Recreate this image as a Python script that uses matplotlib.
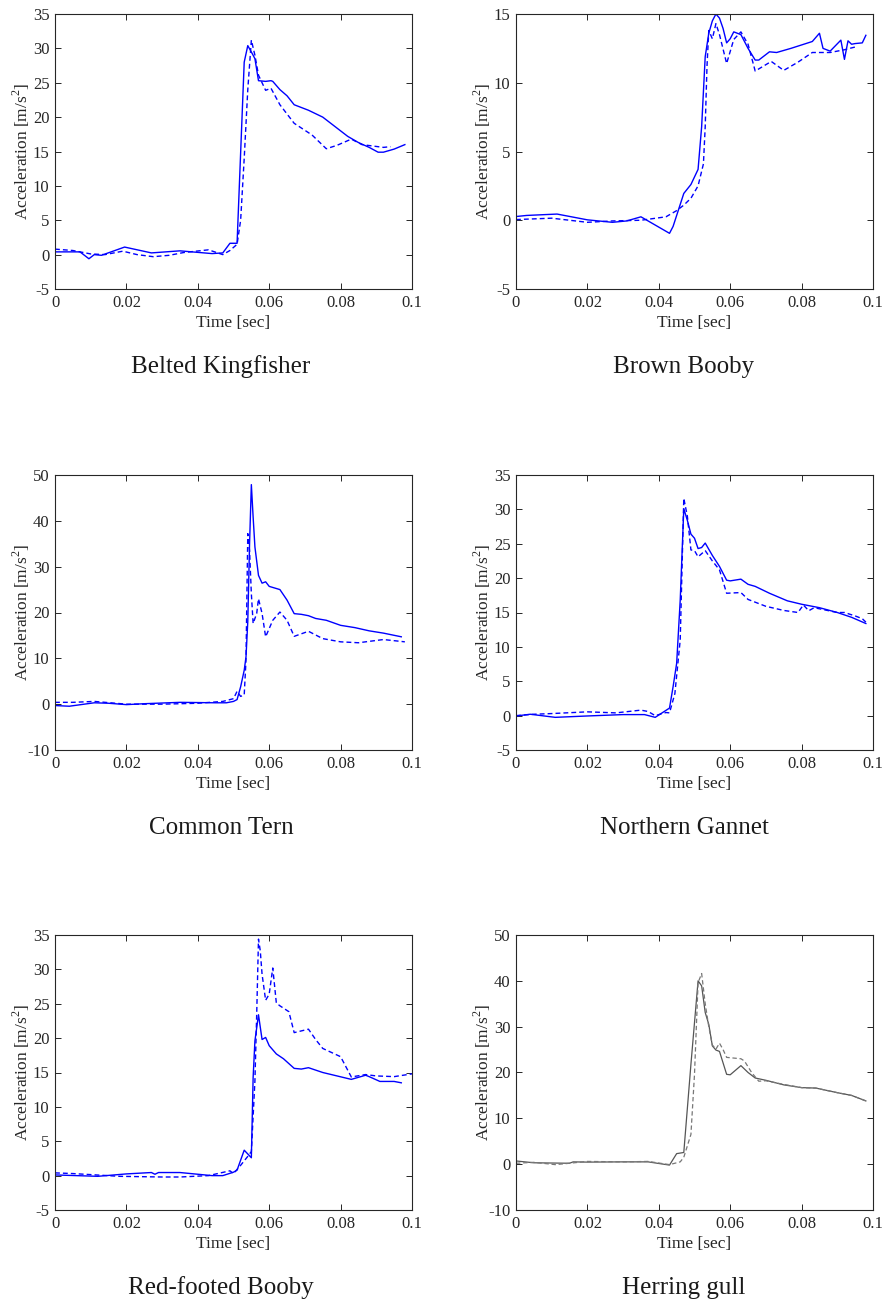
import matplotlib
matplotlib.use("Agg")
import matplotlib.pyplot as plt
from matplotlib.ticker import MultipleLocator

plt.rcParams['font.family'] = ['Liberation Serif', 'DejaVu Serif']
plt.rcParams['mathtext.fontset'] = 'custom'
plt.rcParams['mathtext.rm'] = 'Liberation Serif'
plt.rcParams['axes.unicode_minus'] = False

titles = ["Belted Kingfisher", "Brown Booby", "Common Tern",
          "Northern Gannet", "Red-footed Booby", "Herring gull"]

x_ticks = [0, 0.02, 0.04, 0.06, 0.08, 0.1]
x_ticklabels = ["0", "0.02", "0.04", "0.06", "0.08", "0.1"]

# Belted Kingfisher
bk_t_solid = [0, 0.007, 0.0095, 0.011, 0.013, 0.0195, 0.027, 0.035, 0.044, 0.047, 0.049, 0.051,
              0.053, 0.054, 0.0555, 0.056, 0.057, 0.059, 0.0605, 0.061, 0.063, 0.065, 0.067,
              0.071, 0.075, 0.079, 0.082, 0.085, 0.088, 0.0905, 0.092, 0.095, 0.098]
bk_a_solid = [0.4, 0.4, -0.6, 0.0, -0.1, 1.1, 0.25, 0.55, 0.15, 0.25, 1.65, 1.65,
              28.0, 30.4, 29.0, 28.5, 25.3, 25.2, 25.3, 25.2, 24.0, 23.1, 21.8,
              21.0, 20.0, 18.4, 17.2, 16.3, 15.6, 14.9, 14.9, 15.35, 16.0]
bk_t_dash = [0, 0.005, 0.01, 0.014, 0.019, 0.023, 0.0275, 0.032, 0.036, 0.043, 0.047, 0.049,
             0.051, 0.052, 0.053, 0.054, 0.055, 0.056, 0.057, 0.059, 0.0605, 0.063, 0.067,
             0.072, 0.076, 0.079, 0.083, 0.086, 0.092, 0.094]
bk_a_dash = [0.8, 0.6, 0.1, 0.0, 0.5, 0.0, -0.3, -0.1, 0.3, 0.7, 0.0, 0.6,
             1.5, 5.0, 14.0, 24.0, 31.2, 29.0, 26.1, 23.9, 24.2, 21.8, 19.1,
             17.4, 15.4, 15.9, 16.8, 16.0, 15.6, 15.7]

# Brown Booby
bb_t_solid = [0, 0.003, 0.0115, 0.02, 0.027, 0.031, 0.035, 0.043, 0.044, 0.047, 0.049, 0.051,
              0.052, 0.053, 0.054, 0.055, 0.056, 0.057, 0.058, 0.059, 0.06, 0.061, 0.063,
              0.065, 0.067, 0.068, 0.071, 0.073, 0.077, 0.083, 0.085, 0.086, 0.088, 0.091,
              0.092, 0.093, 0.094, 0.095, 0.097, 0.098]
bb_a_solid = [0.27, 0.35, 0.45, 0.03, -0.15, -0.05, 0.25, -0.95, -0.45, 1.95, 2.6, 3.7,
              6.8, 11.9, 13.6, 14.5, 15.0, 14.7, 13.95, 12.9, 13.2, 13.7, 13.5,
              12.5, 11.65, 11.65, 12.25, 12.2, 12.5, 13.0, 13.6, 12.5, 12.3, 13.1,
              11.7, 13.05, 12.8, 12.85, 12.9, 13.45]
bb_t_dash = [0, 0.01, 0.02, 0.027, 0.035, 0.042, 0.045, 0.047, 0.049, 0.051, 0.0525, 0.053,
             0.0535, 0.054, 0.055, 0.056, 0.057, 0.059, 0.061, 0.063, 0.065, 0.067, 0.0715,
             0.075, 0.079, 0.083, 0.088, 0.092, 0.095]
bb_a_dash = [0.05, 0.15, -0.15, -0.05, 0.0, 0.25, 0.7, 1.1, 1.6, 2.5, 4.1, 6.8,
             11.2, 13.8, 13.2, 14.3, 13.5, 11.4, 13.15, 13.7, 12.8, 10.85, 11.55,
             10.9, 11.5, 12.2, 12.2, 12.4, 12.6]

# Common Tern
ct_t_solid = [0, 0.004, 0.011, 0.015, 0.02, 0.025, 0.035, 0.045, 0.048, 0.05, 0.051, 0.052,
              0.053, 0.0535, 0.054, 0.0545, 0.055, 0.0555, 0.056, 0.057, 0.058, 0.059, 0.06,
              0.063, 0.065, 0.067, 0.069, 0.071, 0.073, 0.076, 0.08, 0.084, 0.088, 0.092, 0.097]
ct_a_solid = [-0.3, -0.45, 0.3, 0.2, -0.1, 0.1, 0.4, 0.3, 0.3, 0.6, 1.0, 3.8,
              7.4, 10.3, 18.0, 35.0, 47.9, 40.8, 34.3, 28.1, 26.4, 26.7, 25.7,
              25.0, 22.7, 19.75, 19.6, 19.3, 18.7, 18.3, 17.2, 16.7, 16.0, 15.5, 14.7]
ct_t_dash = [0, 0.005, 0.011, 0.02, 0.03, 0.04, 0.047, 0.05, 0.051, 0.052, 0.053, 0.0535,
             0.054, 0.0545, 0.055, 0.0555, 0.0565, 0.057, 0.058, 0.059, 0.061, 0.063, 0.065,
             0.067, 0.071, 0.075, 0.08, 0.085, 0.092, 0.098]
ct_a_dash = [0.4, 0.4, 0.6, 0.0, 0.0, 0.2, 0.6, 1.2, 2.8, 1.7, 2.0, 9.6,
             37.2, 33.5, 24.1, 17.6, 19.8, 23.0, 19.8, 14.7, 18.3, 20.1, 18.3,
             14.8, 15.9, 14.3, 13.6, 13.4, 14.1, 13.6]

# Northern Gannet
ng_t_solid = [0, 0.004, 0.011, 0.02, 0.03, 0.036, 0.039, 0.043, 0.044, 0.045, 0.046, 0.047,
              0.048, 0.049, 0.05, 0.051, 0.052, 0.053, 0.055, 0.057, 0.059, 0.06, 0.063,
              0.065, 0.067, 0.071, 0.076, 0.08, 0.085, 0.09, 0.094, 0.098]
ng_a_solid = [-0.05, 0.2, -0.25, -0.05, 0.15, 0.15, -0.25, 1.1, 4.2, 7.6, 16.8, 30.1,
              28.4, 26.4, 25.8, 24.3, 24.45, 25.1, 23.3, 21.7, 19.7, 19.6, 19.85,
              19.1, 18.8, 17.8, 16.7, 16.2, 15.7, 15.0, 14.3, 13.4]
ng_t_dash = [0, 0.005, 0.01, 0.02, 0.028, 0.035, 0.037, 0.039, 0.042, 0.043, 0.0445, 0.046,
             0.047, 0.048, 0.049, 0.05, 0.051, 0.053, 0.055, 0.057, 0.059, 0.063, 0.065,
             0.07, 0.075, 0.079, 0.0805, 0.082, 0.0835, 0.09, 0.092, 0.095, 0.097, 0.098]
ng_a_dash = [0.0, 0.2, 0.3, 0.55, 0.4, 0.8, 0.6, 0.0, 0.45, 0.4, 3.2, 11.0,
             31.6, 29.0, 24.1, 24.0, 23.1, 24.0, 22.5, 21.2, 17.8, 17.9, 16.9,
             15.9, 15.3, 15.0, 16.1, 15.25, 15.7, 15.0, 15.0, 14.5, 14.1, 13.6]

# Red-footed Booby
rb_t_solid = [0, 0.012, 0.02, 0.027, 0.028, 0.029, 0.035, 0.044, 0.047, 0.05, 0.051, 0.053,
              0.055, 0.0555, 0.056, 0.057, 0.058, 0.059, 0.06, 0.062, 0.064, 0.067, 0.069,
              0.071, 0.075, 0.083, 0.087, 0.088, 0.091, 0.095, 0.097]
rb_a_solid = [0.1, -0.1, 0.25, 0.45, 0.2, 0.45, 0.45, 0.0, 0.0, 0.5, 0.8, 3.7,
              2.6, 14.3, 19.6, 23.4, 19.8, 20.1, 18.9, 17.7, 17.0, 15.6, 15.5,
              15.7, 15.0, 14.0, 14.6, 14.4, 13.7, 13.7, 13.5]
rb_t_dash = [0, 0.005, 0.018, 0.03, 0.035, 0.043, 0.049, 0.05, 0.052, 0.054, 0.055, 0.056,
             0.0565, 0.057, 0.0575, 0.058, 0.059, 0.06, 0.061, 0.062, 0.063, 0.0655, 0.067,
             0.071, 0.073, 0.075, 0.08, 0.083, 0.087, 0.09, 0.095, 0.1]
rb_a_dash = [0.4, 0.3, -0.1, -0.2, -0.2, 0.0, 0.7, 0.3, 1.5, 2.8, 3.5, 13.8,
             23.5, 34.4, 32.7, 29.3, 25.5, 26.4, 30.2, 25.1, 24.7, 23.85, 20.8,
             21.3, 19.8, 18.5, 17.3, 14.35, 14.7, 14.5, 14.4, 14.8]

# Herring gull
hg_t_solid = [0, 0.005, 0.015, 0.016, 0.02, 0.03, 0.037, 0.043, 0.045, 0.047, 0.049, 0.051,
              0.052, 0.053, 0.054, 0.055, 0.056, 0.057, 0.059, 0.06, 0.063, 0.065, 0.067,
              0.07, 0.075, 0.08, 0.084, 0.09, 0.094, 0.098]
hg_a_solid = [0.7, 0.3, 0.2, 0.5, 0.45, 0.5, 0.5, -0.2, 2.3, 2.55, 21.8, 40.0,
              38.9, 33.1, 30.5, 25.8, 24.9, 24.6, 19.6, 19.5, 21.5, 20.0, 18.8,
              18.3, 17.3, 16.7, 16.6, 15.6, 15.0, 13.8]
hg_t_dash = [0, 0.005, 0.011, 0.015, 0.02, 0.03, 0.037, 0.043, 0.046, 0.047, 0.049, 0.05,
             0.051, 0.052, 0.053, 0.054, 0.055, 0.056, 0.057, 0.058, 0.059, 0.063, 0.064,
             0.066, 0.068, 0.07, 0.075, 0.08, 0.084, 0.09, 0.094, 0.098]
hg_a_dash = [0.2, 0.4, -0.1, 0.2, 0.6, 0.5, 0.6, -0.1, 0.5, 1.5, 6.5, 19.6,
             39.6, 41.6, 35.0, 30.0, 26.0, 25.1, 26.4, 25.0, 23.3, 23.0, 22.5,
             20.0, 18.1, 18.2, 17.4, 16.7, 16.6, 15.6, 15.0, 13.8]

y_limits = [(-5, 35), (-5, 15), (-10, 50), (-5, 35), (-5, 35), (-10, 50)]
y_steps = [5, 5, 10, 5, 5, 10]

series = [
    (bk_t_solid, bk_a_solid, bk_t_dash, bk_a_dash),
    (bb_t_solid, bb_a_solid, bb_t_dash, bb_a_dash),
    (ct_t_solid, ct_a_solid, ct_t_dash, ct_a_dash),
    (ng_t_solid, ng_a_solid, ng_t_dash, ng_a_dash),
    (rb_t_solid, rb_a_solid, rb_t_dash, rb_a_dash),
    (hg_t_solid, hg_a_solid, hg_t_dash, hg_a_dash),
]

W, H = 885, 1306
fig = plt.figure(figsize=(W / 100, H / 100), dpi=100)

col_left = [55, 516]
ax_w = 357
row_top = [14, 475, 935]
ax_h = 275
title_y = [367, 828, 1288]
title_x = [221, 684]

axis_col = '#262626'
for i, (ts, a_s, td, a_d) in enumerate(series):
    r, c = divmod(i, 2)
    left = col_left[c] / W
    bottom = 1 - (row_top[r] + ax_h) / H
    ax = fig.add_axes([left, bottom, ax_w / W, ax_h / H])
    if i == 5:
        sc, dc, lw = '#555555', '#777777', 0.9
    else:
        sc, dc, lw = '#0000ff', '#0000ff', 1.0
    ax.plot(ts, a_s, color=sc, lw=lw, ls='-')
    ax.plot(td, a_d, color=dc, lw=lw, ls=(0, (3.5, 2.2)))
    ax.set_xlim(0, 0.1)
    ax.set_ylim(*y_limits[i])
    ax.yaxis.set_major_locator(MultipleLocator(y_steps[i]))
    ax.set_xticks(x_ticks)
    ax.set_xticklabels(x_ticklabels)
    ax.tick_params(direction='in', top=True, right=True, length=4.5, width=0.7,
                   labelsize=12, colors=axis_col, pad=4)
    for s in ax.spines.values():
        s.set_color(axis_col)
        s.set_linewidth(0.8)
    ax.set_xlabel('Time [sec]', fontsize=12.5, color=axis_col, labelpad=3)
    ax.set_ylabel(r'Acceleration [m/s$^2$]', fontsize=12.5, color=axis_col)
    ax.yaxis.set_label_coords(-0.064, 0.5)
    fig.text(title_x[c] / W, 1 - title_y[r] / H, titles[i], ha='center', va='center',
             fontsize=18, color='#1a1a1a')

fig.savefig('out.png', dpi=100)
